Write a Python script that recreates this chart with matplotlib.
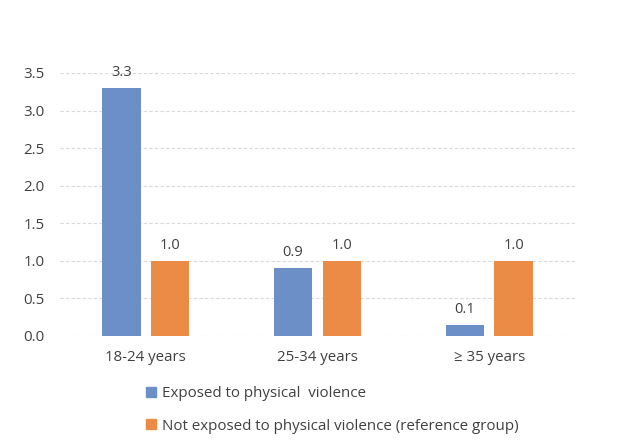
import matplotlib
matplotlib.use("Agg")
import matplotlib.pyplot as plt
import numpy as np
from matplotlib.patches import Patch

categories = ["18-24 years", "25-34 years", "\u2265 35 years"]
exposed = [3.3, 0.9, 0.14]
not_exposed = [1.0, 1.0, 1.0]
series_names = ["Exposed to physical  violence",
                "Not exposed to physical violence (reference group)"]

blue = "#6b8fc6"
orange = "#ec8b45"
txt = "#404040"

plt.rcParams['font.family'] = ['Open Sans', 'DejaVu Sans']

fig = plt.figure(figsize=(6.42, 4.45), dpi=100)
ax = fig.add_axes([0.093, 0.245, 0.803, 0.591])

x = np.arange(len(categories))
w = 0.225
off = 0.142
b1 = ax.bar(x - off, exposed, w, color=blue, zorder=3)
b2 = ax.bar(x + off, not_exposed, w, color=orange, zorder=3)

for bars, vals in ((b1, exposed), (b2, not_exposed)):
    for r, v in zip(bars, vals):
        ax.text(r.get_x() + r.get_width() / 2, v + 0.11, f"{v:.1f}",
                ha="center", va="bottom", fontsize=10.5, color=txt)

ax.set_xlim(-0.5, 2.5)
ax.set_ylim(0, 3.5)
ax.set_yticks(np.arange(0, 3.51, 0.5))
ax.set_yticklabels([f"{t:.1f}" for t in np.arange(0, 3.51, 0.5)])
ax.set_xticks(x)
ax.set_xticklabels(categories)
ax.tick_params(axis="both", length=0, labelsize=10.8, colors=txt)
ax.tick_params(axis="y", pad=11)
ax.tick_params(axis="x", pad=10)
ax.grid(axis="y", color="#d9d9d9", linestyle=(0, (3, 2)), linewidth=0.8, zorder=0)
for s in ax.spines.values():
    s.set_visible(False)

handles = [Patch(color=blue), Patch(color=orange)]
fig.legend(handles, series_names, loc="upper left", bbox_to_anchor=(0.228, 0.132),
           frameon=False, fontsize=10.9, labelcolor=txt, handlelength=0.65,
           handleheight=0.65, handletextpad=0.4, labelspacing=1.15,
           borderaxespad=0, borderpad=0)

fig.savefig("out.png", dpi=100)
